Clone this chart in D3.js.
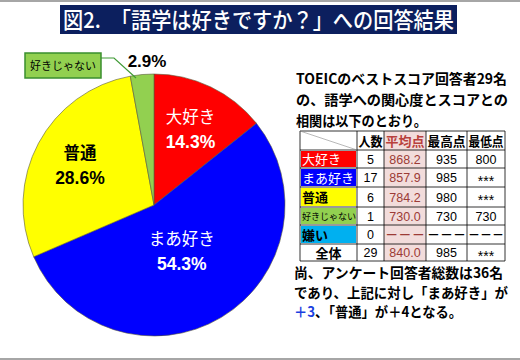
<!DOCTYPE html>
<html><head><meta charset="utf-8">
<script src="https://cdn.jsdelivr.net/npm/d3@7"></script>
<style>html,body{margin:0;padding:0;background:#fff;}svg{display:block;}</style>
</head><body>
<script>
// ---- data ----
const categories = ['大好き', 'まあ好き', '普通', '好きじゃない'];
const pieValues = [14.3, 54.3, 28.6, 2.9];
const pieLabels = ['14.3%', '54.3%', '28.6%', '2.9%'];
const title = '図2.　「語学は好きですか？」への回答結果';
const introLines = ['TOEICのベストスコア回答者29名', 'の、語学への関心度とスコアとの', '相関は以下のとおり。'];
const tableHeader = ['', '人数', '平均点', '最高点', '最低点'];
const tableLabels = ['大好き', 'まあ好き', '普通', '好きじゃない', '嫌い', '全体'];
const counts = ['5', '17', '6', '1', '0', '29'];
const avgScores = ['868.2', '857.9', '784.2', '730.0', '－－－', '840.0'];
const maxScores = ['935', '985', '980', '730', '－－－', '985'];
const minScores = ['800', '***', '***', '730', '－－－', '***'];

// ---- styles ----
const W = 520, H = 360;
const sliceColors = {'大好き': '#ff0000', 'まあ好き': '#0000ff', '普通': '#ffff00', '好きじゃない': '#92d050'};
const labelColors = {'大好き': '#ffffff', 'まあ好き': '#ffffff', '普通': '#000000'};
const labelRadius = {'大好き': 84, 'まあ好き': 54, '普通': 84};
const rowFill = ['#ff0000', '#0000ff', '#ffff00', '#92d050', '#00b0f0', '#ffffff'];
const rowText = ['#ffffff', '#ffffff', '#000000', '#000000', '#000000', '#000000'];
const CJK = "'Noto Sans CJK JP','Noto Sans',sans-serif";
const LAT = "'Liberation Sans',Arial,'Noto Sans CJK JP',sans-serif";

const svg = d3.select('body').append('svg').attr('width', W).attr('height', H);
svg.append('rect').attr('width', W).attr('height', H).attr('fill', '#fff');
svg.append('rect').attr('x', 0).attr('y', 0).attr('width', W).attr('height', 2).attr('fill', '#a6a6a6');
svg.append('rect').attr('x', 0).attr('y', 358).attr('width', W).attr('height', 2).attr('fill', '#a6a6a6');

// title
svg.append('rect').attr('x', 60).attr('y', 5).attr('width', 397).attr('height', 29).attr('fill', '#0c1f5e');
svg.append('text').attr('x', 63).attr('y', 28).attr('fill', '#fff')
  .style('font-family', CJK).style('font-size', '22px').style('font-weight', 500)
  .attr('textLength', 391).attr('lengthAdjust', 'spacingAndGlyphs').text(title);

// pie
const cx = 154, cy = 205, R = 131;
const pie = d3.pie().sort(null).value(d => d.v);
const arcs = pie(categories.map((c, i) => ({c, v: pieValues[i], l: pieLabels[i]})));
const arc = d3.arc().innerRadius(0).outerRadius(R);
const g = svg.append('g').attr('transform', `translate(${cx},${cy})`);
g.selectAll('path.slice').data(arcs).join('path').attr('class', 'slice')
  .attr('d', arc).attr('fill', d => sliceColors[d.data.c])
  .attr('stroke', '#5a5a3a').attr('stroke-width', 0.6);

arcs.forEach(d => {
  if (!(d.data.c in labelRadius)) return;
  const r = labelRadius[d.data.c];
  const a = (d.startAngle + d.endAngle) / 2;
  const x = Math.sin(a) * r, y = -Math.cos(a) * r;
  const col = labelColors[d.data.c];
  const bold = col === '#000000' ? 'bold' : 'normal';
  g.append('text').attr('x', x).attr('y', y - 6).attr('text-anchor', 'middle')
    .attr('fill', col).style('font-family', CJK).style('font-size', '16.5px').style('font-weight', bold)
    .text(d.data.c);
  g.append('text').attr('x', x).attr('y', y + 19).attr('text-anchor', 'middle')
    .attr('fill', col).style('font-family', LAT).style('font-size', '17.5px').style('font-weight', 'bold')
    .text(d.data.l);
});

// small slice callout
const small = arcs[3];
svg.append('polyline').attr('points', '101,58 114,58 136,78').attr('fill', 'none')
  .attr('stroke', '#3f9a35').attr('stroke-width', 1.2);
svg.append('rect').attr('x', 25).attr('y', 53).attr('width', 76).attr('height', 25)
  .attr('fill', '#92d050').attr('stroke', '#3a8f2e').attr('stroke-width', 1.5);
svg.append('text').attr('x', 63).attr('y', 70).attr('text-anchor', 'middle')
  .style('font-family', CJK).style('font-size', '11px').attr('fill', '#000').text(small.data.c);
svg.append('text').attr('x', 147).attr('y', 67).attr('text-anchor', 'middle')
  .style('font-family', LAT).style('font-size', '17px').style('font-weight', 'bold').attr('fill', '#000')
  .text(small.data.l);

// intro text
const introLen = [211, 212, 131];
introLines.forEach((t, i) => {
  svg.append('text').attr('x', 296).attr('y', 84 + i * 21)
    .style('font-family', CJK).style('font-size', '14px').style('font-weight', 'bold').attr('fill', '#000')
    .attr('textLength', introLen[i]).attr('lengthAdjust', 'spacingAndGlyphs').text(t);
});

// table
const xs = [300, 357, 384, 426, 467, 505];
const rowY = [131, 150, 168, 187, 207, 225, 244, 261];
const colX = j => xs[j];
const colW = d3.range(5).map(j => xs[j + 1] - xs[j]);
const tg = svg.append('g');
// pink column
tg.append('rect').attr('x', colX(2)).attr('y', rowY[0]).attr('width', colW[2])
  .attr('height', rowY[rowY.length - 1] - rowY[0]).attr('fill', '#f2dcdb');
tableLabels.forEach((lab, i) => {
  tg.append('rect').attr('x', colX(0) + 1).attr('y', rowY[i + 1] + 1).attr('width', colW[0] - 2)
    .attr('height', rowY[i + 2] - rowY[i + 1] - 2).attr('fill', rowFill[i]);
});
// grid lines
xs.forEach(x => tg.append('line').attr('x1', x).attr('x2', x).attr('y1', rowY[0]).attr('y2', rowY[rowY.length - 1])
  .attr('stroke', '#000').attr('stroke-width', 0.8));
rowY.forEach(y => tg.append('line').attr('x1', xs[0]).attr('x2', xs[xs.length - 1]).attr('y1', y).attr('y2', y)
  .attr('stroke', '#000').attr('stroke-width', 0.8));
tg.append('line').attr('x1', xs[0]).attr('y1', rowY[0]).attr('x2', xs[1]).attr('y2', rowY[1])
  .attr('stroke', '#888').attr('stroke-width', 0.6);
// header
tableHeader.forEach((h, j) => {
  if (!h) return;
  tg.append('text').attr('x', colX(j) + colW[j] / 2).attr('y', 145.5).attr('text-anchor', 'middle')
    .attr('fill', j === 2 ? '#b8403c' : '#000').style('font-family', CJK).style('font-size', '13px').style('font-weight', 'bold')
    .attr('textLength', colW[j] - 3).attr('lengthAdjust', 'spacingAndGlyphs')
    .text(h);
});
const cols = [counts, avgScores, maxScores, minScores];
tableLabels.forEach((lab, i) => {
  const yc = (rowY[i + 1] + rowY[i + 2]) / 2;
  const isTotal = i === tableLabels.length - 1;
  const small = lab.length > 4;
  tg.append('text').attr('x', isTotal ? colX(0) + colW[0] / 2 : colX(0) + 2).attr('y', yc + (small ? 3.5 : 5))
    .attr('text-anchor', isTotal ? 'middle' : 'start').attr('fill', rowText[i])
    .style('font-family', CJK).style('font-size', small ? '9px' : '13px')
    .style('font-weight', rowText[i] === '#000000' && !small ? 'bold' : 'normal')
    .text(lab);
  cols.forEach((arr, k) => {
    const j = k + 1;
    const v = arr[i];
    const dash = v.startsWith('－');
    const star = v.startsWith('*');
    tg.append('text').attr('x', colX(j) + colW[j] / 2).attr('y', yc + (star ? 8 : 4.5)).attr('text-anchor', 'middle')
      .attr('fill', j === 2 ? '#9c3b36' : '#000')
      .style('font-family', dash ? CJK : LAT).style('font-size', dash ? '13px' : (star ? '14px' : '12.5px'))
      .style('font-weight', dash ? 'bold' : 'normal')
      .attr('textLength', dash ? colW[j] - 2 : null).attr('lengthAdjust', 'spacingAndGlyphs')
      .text(v);
  });
});

// bottom note
const noteLines = ['尚、アンケート回答者総数は36名', 'であり、上記に対し「まあ好き」が'];
const noteLen = [209, 214];
noteLines.forEach((t, i) => {
  svg.append('text').attr('x', 294).attr('y', 278 + i * 20)
    .style('font-family', CJK).style('font-size', '14px').style('font-weight', 'bold').attr('fill', '#000')
    .attr('textLength', noteLen[i]).attr('lengthAdjust', 'spacingAndGlyphs').text(t);
});
const l3 = svg.append('text').attr('x', 294).attr('y', 317)
  .style('font-family', CJK).style('font-size', '14px').style('font-weight', 'bold')
  .attr('textLength', 168).attr('lengthAdjust', 'spacingAndGlyphs');
l3.append('tspan').attr('fill', '#1a3fe0').text('＋3');
l3.append('tspan').attr('fill', '#000').text('、「普通」が＋4となる。');
</script>
</body></html>
